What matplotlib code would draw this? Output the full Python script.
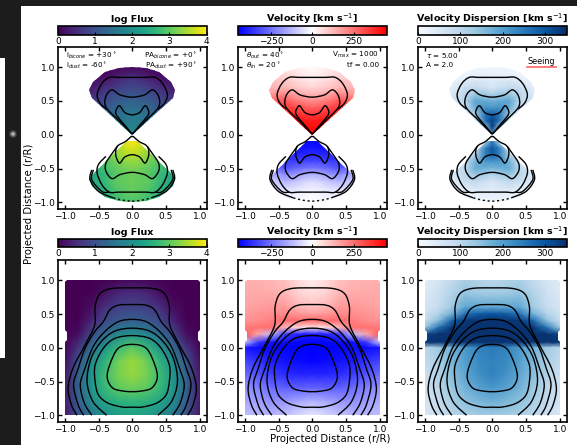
import numpy as np
import matplotlib
matplotlib.use("Agg")
import matplotlib.pyplot as plt
from matplotlib.path import Path
from matplotlib.patches import PathPatch, Rectangle, Circle

W = 577; H = 445

# grid (right half, mirrored when drawn)
top_x = [0, 0.1, 0.25, 0.4, 0.7]
top_y = [1.0, 0.9, 0.8, 0.7, 0.6, 0.5, 0.4, 0.3, 0.2, 0.1, 0.0,
         -0.1, -0.2, -0.3, -0.4, -0.5, -0.6, -0.7, -0.8, -0.9, -1.0]
top_flux = [[0.1, 0.1, 0.1, 0.1, 0.1], [0.35, 0.3, 0.2, 0.1, 0.1], [0.7, 0.6, 0.45, 0.3, 0.1],
            [0.85, 0.8, 0.7, 0.5, 0.2], [1.05, 1.0, 0.95, 0.75, 0.3], [1.25, 1.2, 1.1, 0.9, 0.5],
            [1.45, 1.4, 1.3, 1.1, 0.8], [1.6, 1.55, 1.4, 1.2, 1.0], [1.7, 1.65, 1.5, 1.3, 1.1],
            [1.8, 1.7, 1.6, 1.4, 1.2], [2.0, 1.9, 1.7, 1.5, 1.3],
            [3.95, 3.8, 3.4, 3.0, 2.6], [3.8, 3.7, 3.4, 3.0, 2.6], [3.55, 3.5, 3.3, 3.0, 2.6],
            [3.35, 3.3, 3.15, 2.9, 2.5], [3.2, 3.15, 3.0, 2.8, 2.4], [3.1, 3.05, 2.95, 2.7, 2.2],
            [3.1, 3.05, 3.0, 2.7, 2.1], [3.05, 3.0, 2.9, 2.6, 2.0], [3.0, 2.95, 2.8, 2.5, 2.0],
            [2.9, 2.85, 2.7, 2.4, 2.0]]
top_vel = [[10, 15, 30, 50, 60], [20, 30, 50, 70, 80], [40, 50, 70, 100, 110],
           [70, 80, 100, 130, 130], [130, 140, 160, 210, 170], [200, 210, 240, 300, 250],
           [280, 290, 320, 350, 300], [350, 355, 370, 380, 350], [400, 405, 410, 410, 400],
           [430, 430, 430, 430, 430], [440, 440, 440, 440, 440],
           [-440, -440, -440, -440, -440], [-410, -415, -420, -420, -420], [-370, -375, -385, -390, -390],
           [-320, -325, -335, -340, -300], [-230, -240, -270, -300, -170], [-130, -140, -170, -200, -100],
           [-60, -70, -100, -130, -60], [-30, -35, -50, -60, -40], [-10, -15, -25, -30, -20],
           [-5, -5, -10, -15, -10]]
top_sig = [[15, 15, 15, 10, 5], [30, 30, 25, 15, 8], [40, 50, 55, 40, 10],
           [55, 70, 90, 80, 15], [110, 130, 130, 100, 20], [170, 180, 190, 100, 40],
           [210, 220, 180, 80, 40], [290, 260, 120, 60, 40], [330, 260, 100, 50, 40],
           [330, 130, 60, 40, 40], [200, 100, 50, 40, 40],
           [250, 110, 50, 40, 40], [300, 240, 90, 50, 40], [280, 250, 110, 60, 40],
           [210, 210, 170, 75, 40], [160, 170, 180, 95, 30], [100, 120, 130, 100, 20],
           [55, 70, 90, 80, 15], [40, 50, 55, 40, 10], [30, 30, 25, 15, 8],
           [15, 15, 15, 10, 5]]

# grid (right half)
bot_x = [0, 0.2, 0.4, 0.6, 0.8, 1.0]
flux_y = [1.0, 0.8, 0.6, 0.4, 0.2, 0.0, -0.2, -0.4, -0.6, -0.8, -1.0]
bot_flux = [[0.1, 0.05, 0, 0, 0, 0], [0.5, 0.45, 0.2, 0, 0, 0], [0.8, 0.75, 0.55, 0.15, 0, 0],
            [1.2, 1.1, 0.9, 0.4, 0, 0], [2.0, 1.85, 1.4, 0.9, 0.15, 0], [3.0, 2.7, 2.1, 1.4, 0.6, 0.05],
            [3.4, 3.15, 2.6, 1.9, 1.0, 0.15], [3.35, 3.2, 2.75, 2.1, 1.2, 0.25], [3.1, 3.0, 2.7, 2.1, 1.25, 0.3],
            [2.6, 2.55, 2.35, 1.9, 1.15, 0.3], [2.3, 2.2, 2.0, 1.6, 1.0, 0.25]]
kin_y = [1.0, 0.8, 0.6, 0.5, 0.4, 0.3, 0.2, 0.08, 0.0, -0.2, -0.4, -0.6, -0.8, -1.0]
bot_vel = [[30, 60, 110, 130, 140, 140], [60, 80, 130, 150, 150, 150], [110, 130, 180, 180, 170, 160],
           [170, 180, 210, 200, 190, 170], [270, 260, 260, 230, 200, 190], [40, 60, 120, 250, 250, 230],
           [-400, -390, -340, -120, 150, 300], [-440, -440, -430, -420, -350, -100],
           [-450, -450, -440, -430, -430, -410], [-440, -430, -420, -400, -360, -330],
           [-380, -380, -370, -340, -300, -260], [-270, -280, -280, -260, -220, -190],
           [-130, -150, -180, -190, -170, -150], [-40, -70, -110, -130, -130, -110]]
bot_sig = [[100, 110, 120, 90, 60, 40], [130, 130, 140, 110, 75, 50], [190, 190, 190, 130, 85, 60],
           [300, 290, 260, 170, 110, 70], [345, 345, 340, 280, 150, 80], [345, 345, 345, 340, 260, 130],
           [345, 345, 345, 345, 345, 320], [345, 345, 345, 345, 345, 345], [250, 240, 210, 170, 130, 100],
           [240, 230, 200, 160, 120, 90], [240, 220, 190, 150, 110, 75], [210, 195, 170, 135, 100, 70],
           [170, 160, 145, 120, 90, 60], [130, 125, 115, 100, 80, 55]]

# outlines of the filled areas, left side from x=0 (mirrored)
cone_up = [(0, 1.0), (-0.2, 0.985), (-0.4, 0.93), (-0.58, 0.78), (-0.635, 0.665), (-0.6, 0.54), (0, 0.0)]
cone_dn = [(0, -0.02), (-0.6, -0.6), (-0.64, -0.66), (-0.6, -0.76), (-0.4, -0.92), (-0.2, -0.98), (0, -1.0)]
square = [(0, 1.0), (-0.97, 1.0), (-1.0, 0.97), (-1.0, 0.27), (-0.97, 0.24), (-0.97, 0.12), (-1.0, 0.09),
          (-1.0, -1.0), (0, -1.0)]

# contours, from x=0 outwards (mirrored)
top_lines = [
    [(0, 0.85), (-0.2, 0.85), (-0.34, 0.85), (-0.45, 0.76), (-0.52, 0.6), (-0.48, 0.47), (-0.38, 0.38)],
    [(0, 0.557), (-0.18, 0.59), (-0.3, 0.665), (-0.39, 0.57), (-0.39, 0.41), (-0.2, 0.21), (-0.02, 0.03), (0, 0.02)],
    [(0, 0.295), (-0.11, 0.33), (-0.19, 0.43), (-0.245, 0.345), (-0.22, 0.27), (-0.1, 0.13), (-0.02, 0.03), (0, 0.02)],
    [(0, -0.295), (-0.11, -0.33), (-0.19, -0.42), (-0.245, -0.295), (-0.22, -0.17), (-0.1, -0.1), (-0.02, -0.03), (0, -0.03)],
    [(0, -0.557), (-0.18, -0.59), (-0.3, -0.65), (-0.39, -0.54), (-0.39, -0.42), (-0.3, -0.28), (-0.22, -0.17)],
    [(-0.39, -0.32), (-0.5, -0.44), (-0.52, -0.57), (-0.45, -0.74), (-0.34, -0.85), (-0.2, -0.85), (0, -0.85)],
    [(-0.6, -0.52), (-0.625, -0.665), (-0.5, -0.84), (-0.28, -0.935)],
    [(-0.575, -0.52), (-0.6, -0.665), (-0.45, -0.84), (-0.34, -0.85)],
]
dotted_line = [(-0.28, -0.935), (-0.14, -0.97), (0, -0.985)]
bot_lines = [
    [(0, 0.887), (0.31, 0.877), (0.48, 0.80), (0.55, 0.61), (0.557, 0.335), (0.70, 0.04), (0.877, -0.30),
     (0.95, -0.6), (0.90, -0.85), (0.82, -1.0)],
    [(0, 0.64), (0.21, 0.63), (0.335, 0.557), (0.43, 0.385), (0.557, 0.236), (0.70, -0.01), (0.80, -0.305),
     (0.87, -0.55), (0.80, -0.85), (0.72, -1.0)],
    [(0, 0.42), (0.21, 0.385), (0.41, 0.236), (0.58, 0.015), (0.70, -0.305), (0.77, -0.55), (0.71, -0.82),
     (0.6, -1.0)],
    [(0, 0.29), (0.26, 0.246), (0.46, 0.09), (0.61, -0.157), (0.67, -0.50), (0.58, -0.80), (0.38, -1.0)],
    [(0, 0.18), (0.26, 0.138), (0.43, -0.01), (0.55, -0.256), (0.55, -0.5), (0.5, -0.7), (0.36, -0.82),
     (0.15, -0.878), (0, -0.88)],
    [(0, 0.05), (0.21, -0.01), (0.335, -0.256), (0.37, -0.45), (0.285, -0.6), (0.11, -0.645), (0, -0.65)],
]

ax_left = [58, 238, 418]
ax_w = 148.5
titles = ["log Flux", r"Velocity [km s$^{-1}$]", r"Velocity Dispersion [km s$^{-1}$]"]
cmaps = ["viridis", "bwr", "Blues"]
limits = [(0, 4), (-450, 450), (0, 350)]
cb_ticks = [[0, 1, 2, 3, 4], [-250, 0, 250], [0, 100, 200, 300]]


def px_axes(fig, x0, y0, x1, y1):
    return fig.add_axes([x0 / W, 1 - y1 / H, (x1 - x0) / W, (y1 - y0) / H])


def mirrored(v):
    v = np.array(v, dtype=float)
    return np.hstack([v[:, :0:-1], v])


def outline(ax, pts):
    pts = list(pts)
    right = [(-x, y) for x, y in pts[::-1] if x != 0]
    verts = pts + right + [pts[0]]
    return PathPatch(Path(verts), transform=ax.transData, fc="none", ec="none")


def field(ax, xs, ys, z, shape, cmap, lim):
    xs = np.array(xs, dtype=float)
    X = np.hstack([-xs[:0:-1], xs])
    m = ax.pcolormesh(X, np.array(ys), mirrored(z), shading="gouraud", cmap=cmap, vmin=lim[0], vmax=lim[1])
    clip = outline(ax, shape)
    ax.add_patch(clip)
    m.set_clip_path(clip)
    return m


def curve(ax, pts, **kw):
    # bezier pieces passing through every point that was read
    p = np.array(pts, dtype=float)
    verts = [p[0]]
    codes = [Path.MOVETO]
    for i in range(len(p) - 1):
        a = p[max(i - 1, 0)]; b = p[i]; c = p[i + 1]; d = p[min(i + 2, len(p) - 1)]
        verts += [b + (c - a) / 6, c - (d - b) / 6, c]
        codes += [Path.CURVE4] * 3
    ax.add_patch(PathPatch(Path(verts, codes), fc="none", ec="k", lw=1.0, **kw))


def mirror_line(ax, pts, **kw):
    flip = [(-x, y) for x, y in pts[::-1]]
    if pts[0][0] == 0:
        curve(ax, flip[:-1] + list(pts), **kw)
    else:
        curve(ax, pts, **kw)
        curve(ax, flip, **kw)


fig = plt.figure(figsize=(W / 100, H / 100), dpi=100)

# dark page behind the white figure
bg = fig.add_axes([0, 0, 1, 1])
bg.set_xlim(0, W); bg.set_ylim(H, 0); bg.axis("off")
bg.add_patch(Rectangle((0, 0), W, H, fc="#1c1c1c", ec="none"))
bg.add_patch(Rectangle((21, 6), W - 21, H - 6, fc="white", ec="none"))
bg.add_patch(Rectangle((0, 58), 5, 300, fc="white", ec="none"))
for r, a in [(4, 0.12), (3, 0.2), (2, 0.3), (1, 0.5)]:
    bg.add_patch(Circle((13, 134), r, fc="white", ec="none", alpha=a))

for row, (top, bottom, cb0, cb1) in enumerate([(47, 209, 26, 34.7), (260, 422, 239, 247)]):
    for col in range(3):
        ax = px_axes(fig, ax_left[col], top, ax_left[col] + ax_w, bottom)
        if row == 0:
            z = [top_flux, top_vel, top_sig][col]
            up = field(ax, top_x, top_y[:11], z[:11], cone_up, cmaps[col], limits[col])
            m = field(ax, top_x, top_y[11:], z[11:], cone_dn, cmaps[col], limits[col])
            for line in top_lines:
                mirror_line(ax, line)
            mirror_line(ax, dotted_line, ls=(0, (1.5, 2)))
        else:
            ys = flux_y if col == 0 else kin_y
            z = [bot_flux, bot_vel, bot_sig][col]
            m = field(ax, bot_x, ys, z, square, cmaps[col], limits[col])
            for line in bot_lines:
                mirror_line(ax, [(-x, y) for x, y in line])
        ax.set_xlim(-1.1, 1.1)
        ax.set_ylim(-1.1, 1.3)
        ax.set_xticks([-1, -0.5, 0, 0.5, 1])
        ax.set_yticks([-1, -0.5, 0, 0.5, 1])
        ax.tick_params(direction="in", top=True, right=True, labelsize=6.5, length=3, width=1, pad=2)
        for s in ax.spines.values():
            s.set_linewidth(1.2)

        cax = px_axes(fig, ax_left[col], cb0, ax_left[col] + ax_w, cb1)
        cb = fig.colorbar(m, cax=cax, orientation="horizontal")
        cb.set_ticks(cb_ticks[col])
        cb.ax.tick_params(labelsize=6.5, length=2, width=0.8, pad=1.5, direction="in")
        cb.outline.set_linewidth(1.2)
        cax.set_title(titles[col], fontsize=6.8, fontweight="bold", pad=3)

        if row == 0:
            if col == 0:
                ax.text(-0.985, 1.18, r"i$_{bicone}$ = +30$^\circ$", fontsize=5.2, va="center")
                ax.text(-0.985, 1.03, r"i$_{dust}$ = -60$^\circ$", fontsize=5.2, va="center")
                ax.text(0.96, 1.18, r"PA$_{bicone}$ = +0$^\circ$", fontsize=5.2, va="center", ha="right")
                ax.text(0.96, 1.03, r"PA$_{dust}$ = +90$^\circ$", fontsize=5.2, va="center", ha="right")
            elif col == 1:
                ax.text(-0.985, 1.18, r"$\theta_{out}$ = 40$^\circ$", fontsize=5.2, va="center")
                ax.text(-0.985, 1.03, r"$\theta_{in}$ = 20$^\circ$", fontsize=5.2, va="center")
                ax.text(0.985, 1.18, r"V$_{max}$ = 1000", fontsize=5.2, va="center", ha="right")
                ax.text(0.985, 1.03, "tf = 0.00", fontsize=5.2, va="center", ha="right")
            else:
                ax.text(-0.985, 1.18, r"$\tau$ = 5.00", fontsize=5.2, va="center")
                ax.text(-0.985, 1.03, "A = 2.0", fontsize=5.2, va="center")
                ax.text(0.72, 1.08, "Seeing", fontsize=5.8, va="center", ha="center")
                ax.plot([0.52, 0.94], [1.0, 1.0], color="red", alpha=0.6, lw=1.2)

fig.text(330 / W, 1 - 439.5 / H, "Projected Distance (r/R)", fontsize=7.3, ha="center", va="center")
fig.text(29 / W, 1 - 204 / H, "Projected Distance (r/R)", fontsize=7.3, ha="center", va="center", rotation=90)

fig.savefig("out.png", dpi=100)
